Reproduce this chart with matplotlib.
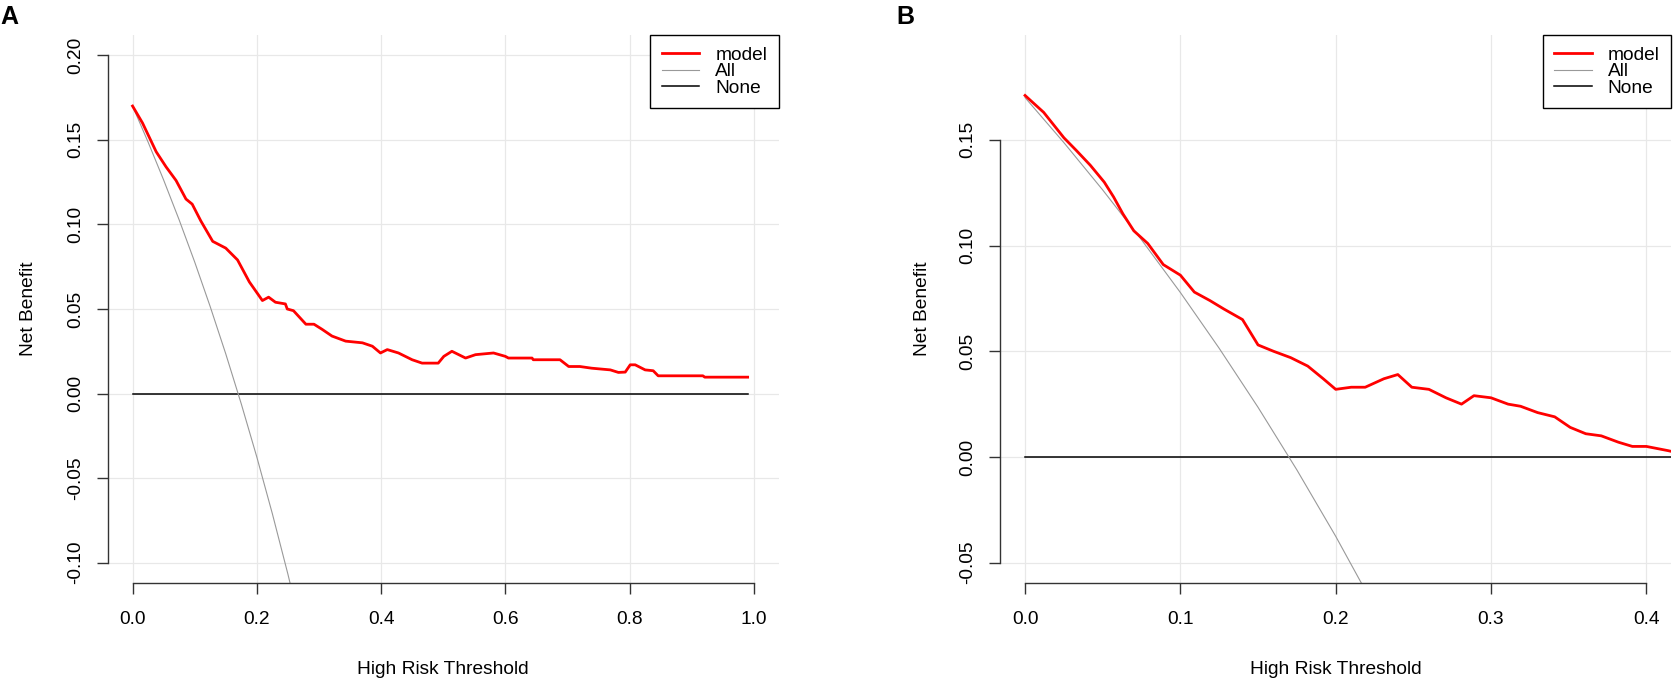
import matplotlib.pyplot as plt

# decision curve data
thr_a = [0, 0.016, 0.038, 0.054, 0.070, 0.086, 0.096, 0.110, 0.129, 0.150,
         0.169, 0.188, 0.209, 0.219, 0.230, 0.246, 0.249, 0.259, 0.279, 0.292,
         0.305, 0.321, 0.343, 0.370, 0.386, 0.399, 0.410, 0.428, 0.450, 0.466,
         0.492, 0.501, 0.514, 0.536, 0.552, 0.581, 0.600, 0.605, 0.643, 0.645,
         0.688, 0.702, 0.720, 0.739, 0.769, 0.782, 0.793, 0.801, 0.809, 0.825,
         0.838, 0.846, 0.918, 0.921, 0.990]
nb_a = [0.170, 0.160, 0.143, 0.134, 0.126, 0.115, 0.112, 0.102, 0.090, 0.086,
        0.079, 0.066, 0.055, 0.057, 0.054, 0.053, 0.050, 0.049, 0.041, 0.041,
        0.038, 0.034, 0.031, 0.030, 0.028, 0.024, 0.026, 0.024, 0.020, 0.018,
        0.018, 0.022, 0.025, 0.021, 0.023, 0.024, 0.022, 0.021, 0.021, 0.020,
        0.020, 0.016, 0.016, 0.015, 0.014, 0.0125, 0.0127, 0.017, 0.017, 0.014,
        0.0135, 0.0105, 0.0105, 0.0097, 0.0097]

thr_b = [0, 0.012, 0.025, 0.033, 0.042, 0.051, 0.057, 0.063, 0.070, 0.079,
         0.084, 0.089, 0.100, 0.109, 0.119, 0.128, 0.140, 0.150, 0.160, 0.171,
         0.182, 0.192, 0.200, 0.210, 0.219, 0.231, 0.240, 0.249, 0.260, 0.271,
         0.281, 0.289, 0.300, 0.311, 0.319, 0.330, 0.341, 0.351, 0.361, 0.371,
         0.382, 0.391, 0.400, 0.414, 0.420]
nb_b = [0.171, 0.163, 0.151, 0.145, 0.138, 0.130, 0.123, 0.115, 0.107, 0.101,
        0.096, 0.091, 0.086, 0.078, 0.074, 0.070, 0.065, 0.053, 0.050, 0.047,
        0.043, 0.037, 0.032, 0.033, 0.033, 0.037, 0.039, 0.033, 0.032, 0.028,
        0.025, 0.029, 0.028, 0.025, 0.024, 0.021, 0.019, 0.014, 0.011, 0.010,
        0.007, 0.005, 0.005, 0.003, 0.002]

# treat-all curve (same in both panels)
thr_all = [0, 0.025, 0.05, 0.075, 0.10, 0.125, 0.15, 0.175, 0.20, 0.225, 0.25, 0.275]
nb_all = [0.170, 0.1487, 0.1263, 0.1027, 0.0778, 0.0514, 0.0235, -0.0061,
          -0.0375, -0.071, -0.1067, -0.1448]

none_a = [0, 0.99]
none_b = [0, 0.42]

xticks_a = [0, 0.2, 0.4, 0.6, 0.8, 1.0]
yticks_a = [-0.10, -0.05, 0.00, 0.05, 0.10, 0.15, 0.20]
xticks_b = [0, 0.1, 0.2, 0.3, 0.4]
yticks_b = [-0.05, 0.00, 0.05, 0.10, 0.15]
ylim_a = (-0.10, 0.20)
ylim_b = (-0.05, 0.19)

plt.rcParams['font.family'] = ['Liberation Sans', 'DejaVu Sans']

W, H = 1673, 681
fig = plt.figure(figsize=(W / 100, H / 100), dpi=100)


def pad4(lo, hi):
    # R style axis range (4% on each side)
    d = (hi - lo) * 0.04
    return lo - d, hi + d


def panel(left_px, thr, nb, none_x, xticks, yticks, ylim, letter, letter_x, ylab_x):
    ax = fig.add_axes([left_px / W, (H - 583) / H, 671 / W, 548 / H])
    ax.set_xlim(*pad4(xticks[0], xticks[-1]))
    ax.set_ylim(*pad4(*ylim))

    for x in xticks:
        ax.axvline(x, color='#e8e8e8', lw=0.9, zorder=0)
    for y in yticks:
        ax.axhline(y, color='#e8e8e8', lw=0.9, zorder=0)

    ax.plot(none_x, [0, 0], color='black', lw=1.1, label='None')
    ax.plot(thr_all, nb_all, color='#999999', lw=0.8, label='All')
    ax.plot(thr, nb, color='red', lw=2.0, label='model')

    for s in ['top', 'right']:
        ax.spines[s].set_visible(False)
    for s in ['left', 'bottom']:
        ax.spines[s].set_color('#333333')
        ax.spines[s].set_linewidth(1.0)
    ax.spines['bottom'].set_bounds(xticks[0], xticks[-1])
    ax.spines['left'].set_bounds(yticks[0], yticks[-1])

    ax.set_xticks(xticks)
    ax.set_xticklabels(['%.1f' % v for v in xticks])
    ax.set_yticks(yticks)
    ax.set_yticklabels(['%.2f' % v for v in yticks], rotation=90, va='center')
    ax.tick_params(length=8, width=1.0, color='#333333', labelsize=13.8)
    ax.tick_params(axis='x', pad=12)
    ax.tick_params(axis='y', pad=9)

    handles, labels = ax.get_legend_handles_labels()
    ax.legend(handles[::-1], labels[::-1], loc='upper right', borderaxespad=0,
              fancybox=False, edgecolor='black', framealpha=1, fontsize=13.8,
              handlelength=1.96, handletextpad=0.83, borderpad=0.6,
              labelspacing=-0.05).get_frame().set_linewidth(1.0)

    mid_x = (left_px + 335.5) / W
    fig.text(mid_x, 1 - 674 / H, 'High Risk Threshold', fontsize=13.8,
             ha='center', va='baseline')
    fig.text(ylab_x / W, 1 - 309 / H, 'Net Benefit', fontsize=13.8, rotation=90,
             rotation_mode='anchor', ha='center', va='baseline')
    fig.text(letter_x / W, 1 - 24 / H, letter, fontsize=18, fontweight='bold',
             ha='left', va='baseline')
    return ax


panel(107.7, thr_a, nb_a, none_a, xticks_a, yticks_a, ylim_a, 'A', 0, 33.3)
panel(1000.2, thr_b, nb_b, none_b, xticks_b, yticks_b, ylim_b, 'B', 896.7, 926.7)

fig.savefig('out.png', dpi=100)
